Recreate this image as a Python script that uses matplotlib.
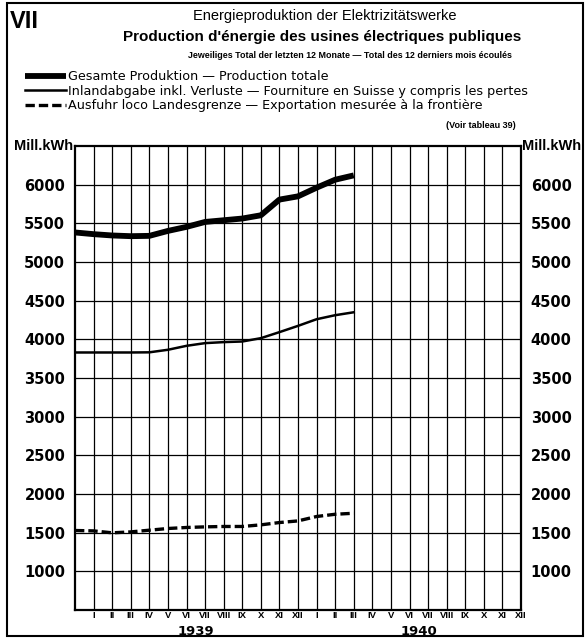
import numpy as np
import matplotlib.pyplot as plt
from matplotlib.patches import Rectangle

# month index 0 = end of Dec 1938, 15 = end of Mar 1940
months_idx = list(range(16))
total_prod = [5382, 5360, 5343, 5334, 5338, 5402, 5454, 5518,
              5540, 5562, 5604, 5807, 5849, 5961, 6064, 6120]
inland = [3830, 3830, 3830, 3830, 3832, 3865, 3916, 3951,
          3964, 3972, 4015, 4093, 4174, 4260, 4312, 4350]
export = [1528, 1523, 1498, 1510, 1532, 1554, 1567, 1575,
          1580, 1580, 1601, 1631, 1652, 1709, 1738, 1751]

roman = ["I", "II", "III", "IV", "V", "VI", "VII", "VIII", "IX", "X", "XI", "XII"]
month_labels = roman + roman
years = ["1939", "1940"]
y_ticks = list(range(1000, 6001, 500))

labels = ["Gesamte Produktion \u2014 Production totale",
          "Inlandabgabe inkl. Verluste \u2014 Fourniture en Suisse y compris les pertes",
          "Ausfuhr loco Landesgrenze \u2014 Exportation mesurée à la frontière"]

plt.rcParams['font.family'] = ['Liberation Sans', 'DejaVu Sans']

fig = plt.figure(figsize=(5.88, 6.39), dpi=100)
ax = fig.add_axes([75 / 588, 1 - 610 / 639, 446 / 588, 464 / 639])

l1, = ax.plot(months_idx, total_prod, color="black", lw=4.2, solid_capstyle="butt")
l2, = ax.plot(months_idx, inland, color="black", lw=1.8)
l3, = ax.plot(months_idx, export, color="black", lw=2.4, dashes=(2.8, 1.2))

ax.set_xlim(0, 24)
ax.set_ylim(500, 6500)

# grid
for v in y_ticks:
    ax.axhline(v, color="black", lw=0.9, zorder=0)
for i in range(1, 24):
    ax.axvline(i, color="black", lw=0.9, zorder=0)

for s in ax.spines.values():
    s.set_linewidth(1.6)

ax.set_yticks(y_ticks)
ax.set_yticklabels([str(v) for v in y_ticks], fontfamily="DejaVu Sans",
                   fontweight="bold", fontsize=10.5)
ax.tick_params(axis="y", length=0, pad=7, labelright=True, right=False)
ax.set_xticks(range(1, 25))
ax.set_xticklabels(month_labels, fontweight="bold", fontsize=6.8)
ax.tick_params(axis="x", length=0, pad=1)

for k, yr in enumerate(years):
    ax.text(6.5 + 12 * k, -0.047, yr, transform=ax.get_xaxis_transform(),
            ha="center", va="center", fontfamily="DejaVu Sans",
            fontweight="bold", fontsize=9.5)

ax.text(-0.004, 1.0, "Mill.kWh", transform=ax.transAxes, ha="right", va="center",
        fontweight="bold", fontsize=10.5)
ax.text(1.003, 1.0, "Mill.kWh", transform=ax.transAxes, ha="left", va="center",
        fontweight="bold", fontsize=10.5)

# header
fig.text(10 / 588, 1 - 22 / 639, "VII", fontsize=17, fontweight="bold", va="center")
fig.text(325 / 588, 1 - 16 / 639, "Energieproduktion der Elektrizitätswerke",
         ha="center", va="center", fontsize=10.5)
fig.text(322 / 588, 1 - 37 / 639, "Production d'énergie des usines électriques publiques",
         ha="center", va="center", fontsize=11, fontweight="bold")
fig.text(350 / 588, 1 - 56 / 639,
         "Jeweiliges Total der letzten 12 Monate \u2014 Total des 12 derniers mois écoulés",
         ha="center", va="center", fontsize=6.4, fontweight="bold")
fig.text(516 / 588, 1 - 126 / 639, "(Voir tableau 39)", ha="right", va="center",
         fontsize=6.5, fontweight="bold")

fig.legend([l1, l2, l3], labels, loc="upper left",
           bbox_to_anchor=(25 / 588, 1 - 70 / 639), frameon=False,
           prop={"family": "DejaVu Sans", "size": 9.2},
           handlelength=3.2, handletextpad=0.2,
           labelspacing=0.12, borderaxespad=0, borderpad=0)

fig.add_artist(Rectangle((7 / 588, 3 / 639), 576 / 588, 633 / 639,
                         transform=fig.transFigure, fill=False,
                         edgecolor="black", lw=1.5))

fig.savefig("out.png", dpi=100)
